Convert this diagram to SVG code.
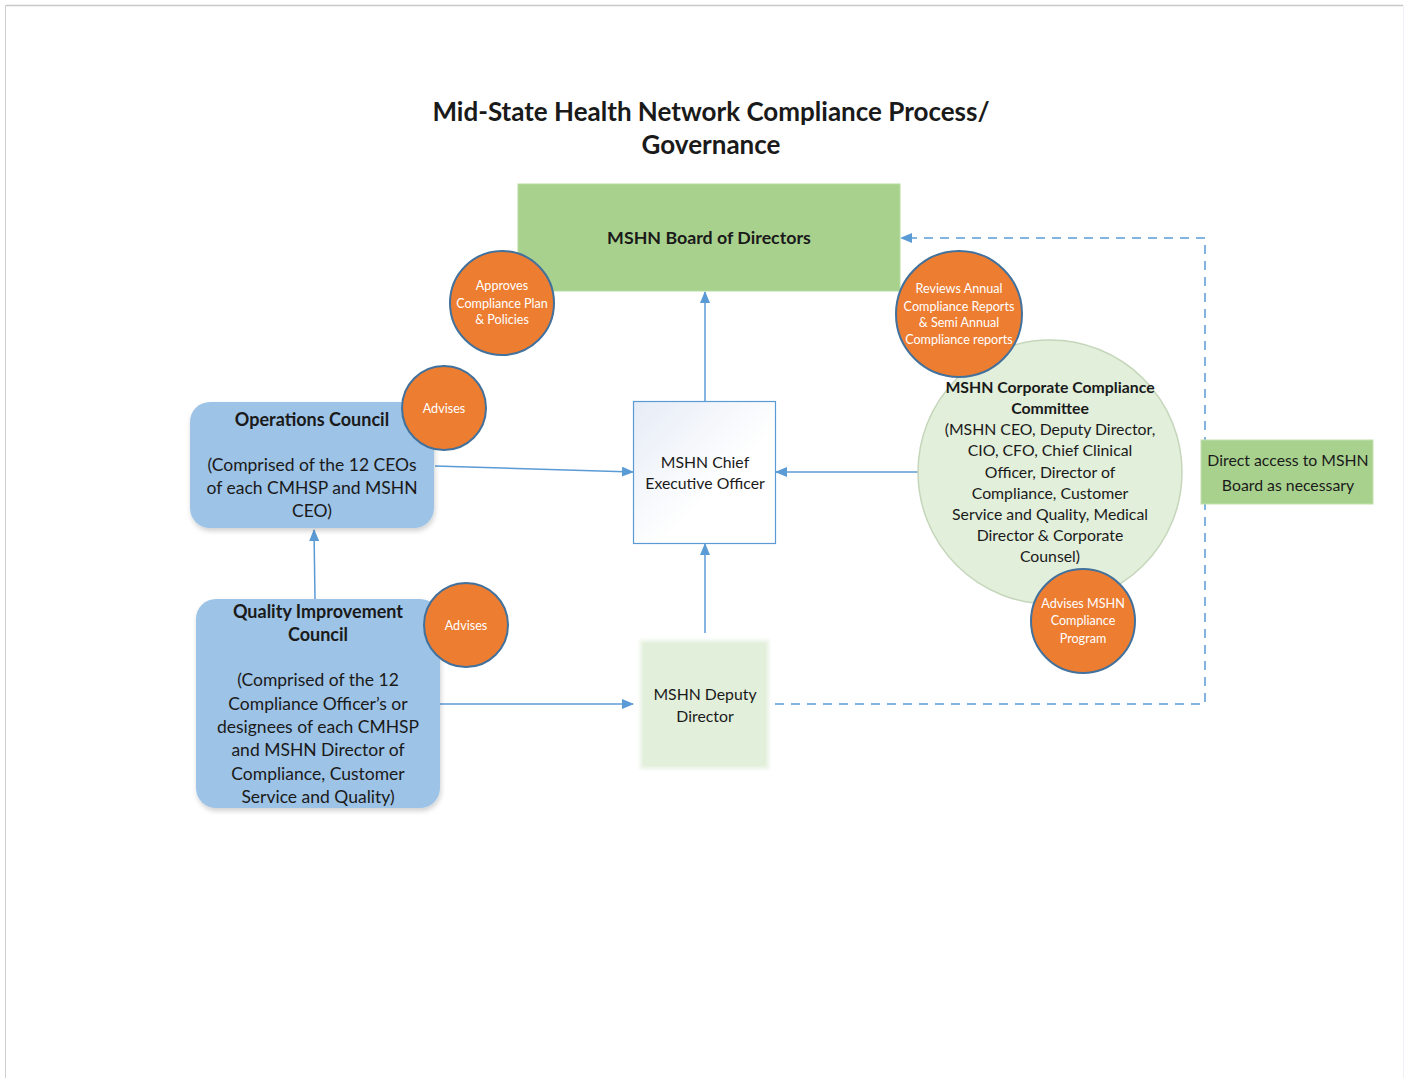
<svg xmlns="http://www.w3.org/2000/svg" width="1409" height="1078" viewBox="0 0 1409 1078">
<style>
text{font-family:Lato,"Liberation Sans",sans-serif;text-anchor:middle;fill:#1a1a1a}
.b{font-weight:bold}
.w{fill:#fff;font-size:12.6px}
.t{font-size:17.5px}
.tb{font-size:18px;font-weight:bold}
.c{font-size:15.8px}
.conn{stroke:#5b9bd5;stroke-width:1.5;fill:none}
.dash{stroke-dasharray:9 7}
.orange{fill:#ed7d31;stroke:#41719c;stroke-width:2}
</style>
<defs>
<marker id="ah" viewBox="0 0 12 10" refX="11" refY="5" markerWidth="12" markerHeight="10" markerUnits="userSpaceOnUse" orient="auto">
<path d="M0,0 L12,5 L0,10 Z" fill="#5b9bd5"/>
</marker>
<linearGradient id="ceo" x1="0" y1="0" x2="1" y2="1">
<stop offset="0" stop-color="#e6ecf6"/>
<stop offset="0.6" stop-color="#ffffff"/>
</linearGradient>
<filter id="sh" x="-10%" y="-10%" width="120%" height="125%">
<feDropShadow dx="1" dy="3" stdDeviation="2.5" flood-color="#000" flood-opacity="0.18"/>
</filter>
<filter id="glow" x="-10%" y="-10%" width="120%" height="120%">
<feGaussianBlur stdDeviation="1.5"/>
</filter>
</defs>
<rect width="1409" height="1078" fill="#fff"/>
<line x1="6" y1="5.5" x2="1403" y2="5.5" stroke="#c8c8c8" stroke-width="1.5"/>
<line x1="5.5" y1="5" x2="5.5" y2="1078" stroke="#d0d0d0" stroke-width="1"/>
<line x1="1403.5" y1="5" x2="1403.5" y2="1078" stroke="#eef2f6" stroke-width="1"/>

<g id="title">
<text class="b" x="711" y="121" font-size="26">Mid-State Health Network Compliance Process/</text>
<text class="b" x="711" y="154" font-size="26">Governance</text>
</g>

<g id="connectors">
<line class="conn" x1="705" y1="401" x2="705" y2="292" marker-end="url(#ah)"/>
<line class="conn" x1="705" y1="633" x2="705" y2="544" marker-end="url(#ah)"/>
<line class="conn" x1="435" y1="466" x2="633" y2="472" marker-end="url(#ah)"/>
<line class="conn" x1="918" y1="472" x2="776" y2="472" marker-end="url(#ah)"/>
<line class="conn" x1="315" y1="599" x2="314" y2="530" marker-end="url(#ah)"/>
<line class="conn" x1="440" y1="704" x2="633" y2="704" marker-end="url(#ah)"/>
<polyline class="conn dash" points="775,704 1205,704 1205,238 901,238" marker-end="url(#ah)"/>
</g>

<g id="board">
<rect x="518" y="184" width="382" height="107" fill="#a9d18e" stroke="#b7dba0" stroke-width="1"/>
<text class="b" x="709" y="244" font-size="17.8">MSHN Board of Directors</text>
</g>

<g id="approves">
<circle class="orange" cx="502" cy="303" r="52"/>
<text class="w" x="502" y="290">Approves</text>
<text class="w" x="502" y="308">Compliance Plan</text>
<text class="w" x="502" y="324">&amp; Policies</text>
</g>

<g id="ceo">
<rect x="633.5" y="401.5" width="142" height="142" fill="url(#ceo)" stroke="#5b9bd5" stroke-width="1.2"/>
<text class="c" x="705" y="468" font-size="16">MSHN Chief</text>
<text class="c" x="705" y="489" font-size="16">Executive Officer</text>
</g>

<g id="operations-council">
<rect x="190" y="402" width="244" height="126" rx="20" fill="#9dc3e6" filter="url(#sh)"/>
<text class="tb" x="312" y="426">Operations Council</text>
<text class="t" x="312" y="471">(Comprised of the 12 CEOs</text>
<text class="t" x="312" y="494">of each CMHSP and MSHN</text>
<text class="t" x="312" y="517">CEO)</text>
</g>

<g id="advises-oc">
<circle class="orange" cx="444" cy="408" r="42"/>
<text class="w" x="444" y="413">Advises</text>
</g>

<g id="qic">
<rect x="196" y="599" width="244" height="209" rx="20" fill="#9dc3e6" filter="url(#sh)"/>
<text class="tb" x="318" y="618">Quality Improvement</text>
<text class="tb" x="318" y="641">Council</text>
<text class="t" x="318" y="686">(Comprised of the 12</text>
<text class="t" x="318" y="710">Compliance Officer’s or</text>
<text class="t" x="318" y="733">designees of each CMHSP</text>
<text class="t" x="318" y="756">and MSHN Director of</text>
<text class="t" x="318" y="780">Compliance, Customer</text>
<text class="t" x="318" y="803">Service and Quality)</text>
</g>

<g id="advises-qic">
<circle class="orange" cx="466" cy="625" r="42"/>
<text class="w" x="466" y="630">Advises</text>
</g>

<g id="deputy">
<rect x="641" y="641" width="127" height="127" fill="#e2efda" stroke="#eef5ea" stroke-width="3" filter="url(#glow)"/>
<rect x="643" y="643" width="123" height="123" fill="#e2efda"/>
<text class="c" x="705" y="700">MSHN Deputy</text>
<text class="c" x="705" y="722">Director</text>
</g>

<g id="corporate-compliance">
<circle cx="1050" cy="472" r="132" fill="#e2efda" stroke="#c5d6bb" stroke-width="1.5"/>
<text class="b c" x="1050" y="393">MSHN Corporate Compliance</text>
<text class="b c" x="1050" y="414">Committee</text>
<text class="c" x="1050" y="435">(MSHN CEO, Deputy Director,</text>
<text class="c" x="1050" y="456">CIO, CFO, Chief Clinical</text>
<text class="c" x="1050" y="478">Officer, Director of</text>
<text class="c" x="1050" y="499">Compliance, Customer</text>
<text class="c" x="1050" y="520">Service and Quality, Medical</text>
<text class="c" x="1050" y="541">Director &amp; Corporate</text>
<text class="c" x="1050" y="562">Counsel)</text>
</g>

<g id="reviews">
<circle class="orange" cx="959" cy="314" r="63"/>
<text class="w" x="959" y="293">Reviews Annual</text>
<text class="w" x="959" y="311">Compliance Reports</text>
<text class="w" x="959" y="327">&amp; Semi Annual</text>
<text class="w" x="959" y="344">Compliance reports</text>
</g>

<g id="advises-ccc">
<circle class="orange" cx="1083" cy="621" r="52"/>
<text class="w" x="1083" y="608">Advises MSHN</text>
<text class="w" x="1083" y="625">Compliance</text>
<text class="w" x="1083" y="643">Program</text>
</g>

<g id="direct-access">
<rect x="1201" y="440" width="172" height="64" fill="#a9d18e" stroke="#c2e0ad" stroke-width="1"/>
<text class="c" x="1288" y="466">Direct access to MSHN</text>
<text class="c" x="1288" y="491">Board as necessary</text>
</g>
</svg>
